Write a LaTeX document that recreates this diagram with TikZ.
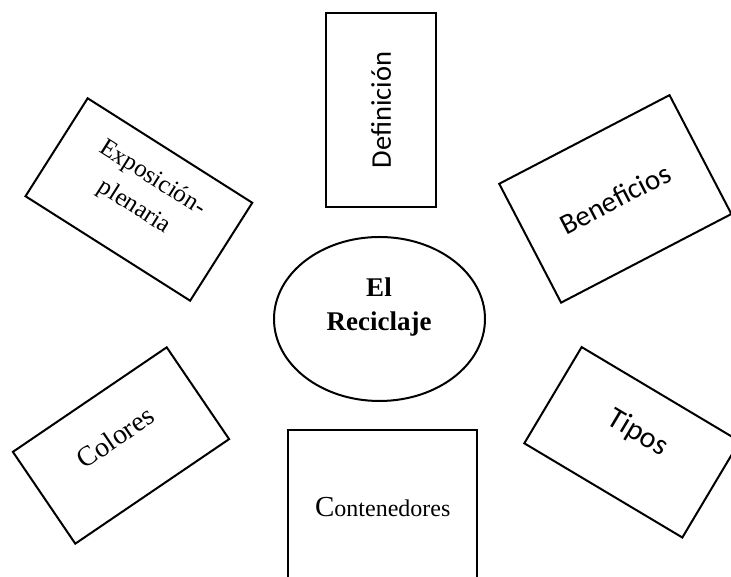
\documentclass[tikz,border=0pt]{standalone}
\usepackage{fontspec}
\setmainfont{Liberation Serif}
\newfontfamily\carlito{Carlito}
\usetikzlibrary{shapes.geometric, calc}
\tikzset{
  %% Card (rectangle round the hub)
  card/.style={
    rectangle, draw=black, line width=2pt,
    inner sep=0pt
  },
  %% Central ellipse
  hub/.style={
    ellipse, draw=black, line width=2pt, inner sep=0pt,
    minimum width=211pt, minimum height=164pt
  },
  %% Sans label
  stxt/.style={font=\carlito\fontsize{#1}{#1}\selectfont, inner sep=0pt},
  %% Serif label
  rtxt/.style={font=\fontsize{#1}{34}\selectfont, inner sep=0pt, align=center},
}
\begin{document}
\begin{tikzpicture}[x=1pt, y=1pt]
  \useasboundingbox (0,0) rectangle (731,577);
  \clip (0,0) rectangle (731,577);

  %% ---- Hub ----
  \node[hub] (recic) at (379.5,258) {};
  \node[font=\bfseries\fontsize{27}{33.4}\selectfont, align=center,
        inner sep=0pt] (recic-t) at (379,270) {El\\Reciclaje};

  %% ---- Top ----
  \node[card, minimum width=110pt, minimum height=193.7pt] (defi)
       at (381,466.9) {};
  \node[stxt=28.5, rotate=90] (defi-t) at (defi.center) {Definición};

  %% ---- Left ----
  \node[card, minimum width=195pt, minimum height=116pt, rotate=-32.4] (expo)
       at (138.9,377.5) {};
  \node[rtxt=25, rotate=-32.4] (expo-t)
       at ($(expo.center)!8pt!(expo.north)$) {Exposición-\\plenaria};

  \node[card, minimum width=186pt, minimum height=111pt, rotate=34.2] (colo)
       at (121,131.5) {};
  \node[rtxt=28, rotate=34.2] (colo-t)
       at ($(colo.center)!10pt!(colo.north)$) {Colores};

  %% ---- Right ----
  \node[card, minimum width=192pt, minimum height=134pt, rotate=27.5] (bene)
       at (615.3,378.1) {};
  \node[stxt=29, rotate=27.5] (bene-t) at (bene.center) {Beneficios};

  \node[card, minimum width=184pt, minimum height=112pt, rotate=-30.8] (tipo)
       at (632,134.7) {};
  \node[stxt=30, rotate=-30.8] (tipo-t)
       at ($(tipo.center)!11pt!(tipo.north)$) {Tipos};

  %% ---- Bottom ----
  \node[card, minimum width=189pt, minimum height=155pt] (cont)
       at (382.8,69.5) {};
  \node[rtxt=24] (cont-t) at (cont.center)
       {{\fontsize{29}{29}\selectfont C}ontenedores};

\end{tikzpicture}
\end{document}
